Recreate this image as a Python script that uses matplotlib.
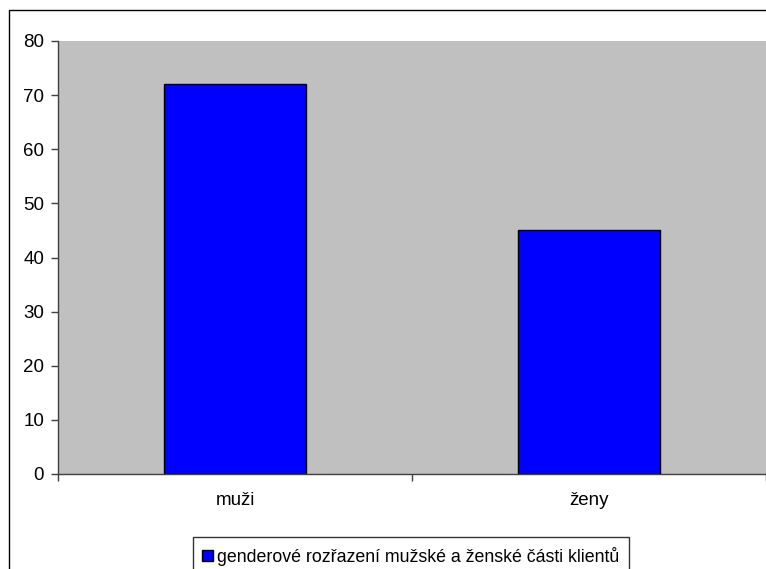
import matplotlib.pyplot as plt
from matplotlib.patches import Rectangle

categories = ["muži", "ženy"]
values = [72, 45]
series_name = "genderové rozřazení mužské a ženské části klientů"
y_ticks = [0, 10, 20, 30, 40, 50, 60, 70, 80]

plt.rcParams['font.family'] = ['Liberation Sans', 'DejaVu Sans']

W, H = 766, 569
fig = plt.figure(figsize=(W / 100, H / 100), dpi=100)

# plot area in pixel terms
left, top, right, bottom = 58, 41, 766, 474
ax = fig.add_axes([left / W, 1 - bottom / H, (right - left) / W, (bottom - top) / H])
ax.set_facecolor('#C0C0C0')

x = list(range(len(categories)))
ax.bar(x, values, width=0.4, color='#0000FF', edgecolor='black', linewidth=1,
       label=series_name, zorder=2)

ax.set_xlim(-0.5, len(categories) - 0.5)
ax.set_ylim(0, 80)
ax.set_yticks(y_ticks)
ax.tick_params(axis='y', labelsize=13.5, length=5, width=1, color='#404040', pad=5)

ax.set_xticks([i - 0.5 for i in range(len(categories) + 1)])
ax.set_xticklabels([])
ax.set_xticks(x, minor=True)
ax.set_xticklabels(categories, minor=True)
ax.tick_params(axis='x', which='major', length=5, width=1, color='#404040')
ax.tick_params(axis='x', which='minor', length=0, labelsize=13.5, pad=13)

for s in ['top', 'right']:
    ax.spines[s].set_visible(False)
for s in ['left', 'bottom']:
    ax.spines[s].set_color('#404040')
    ax.spines[s].set_linewidth(1)

# outer chart frame, cut off at right and bottom edges
fig.patches.append(Rectangle((9 / W, -0.2), 2, 1.2 - 10 / H, transform=fig.transFigure,
                             fill=False, edgecolor='black', linewidth=1))

leg = fig.legend(loc='upper center', bbox_to_anchor=(411 / W, 1 - 537 / H),
                 fontsize=12.8, frameon=True, fancybox=False, edgecolor='black',
                 handlelength=0.6, handleheight=0.6, handletextpad=0.25,
                 borderpad=0.55, borderaxespad=0)
leg.get_frame().set_linewidth(1)

fig.savefig('out.png', dpi=100)
